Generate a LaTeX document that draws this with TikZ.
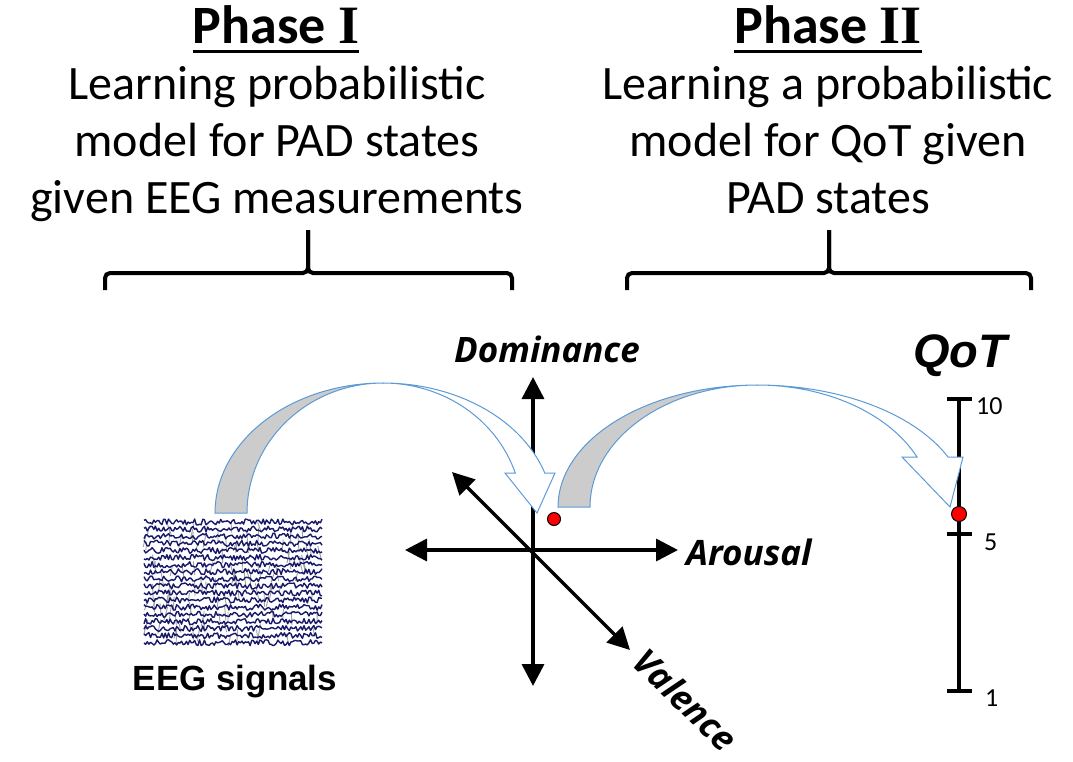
\documentclass[tikz,border=0pt]{standalone}
\usepackage{fontspec}
\setmainfont{Carlito}
\newfontfamily\romfont{Liberation Serif}
\newfontfamily\axisfont{Open Sans}
\newfontfamily\arialfont{Liberation Sans}
\usepackage{tikz}
\usetikzlibrary{arrows.meta,positioning,calc}
\definecolor{arrowblue}{RGB}{91,155,213}
\definecolor{bandgray}{RGB}{204,204,204}
\definecolor{eegnavy}{RGB}{25,25,105}

\begin{document}
\begin{tikzpicture}[x=1pt,y=-1pt,
        title/.style={inner sep=0pt,anchor=base,font=\bfseries\fontsize{54}{60}\selectfont},
        desc/.style={inner sep=0pt,anchor=base,align=center,font=\fontsize{48}{57}\selectfont},
        brace/.style={line width=4pt,rounded corners=5pt},
        axis/.style={line width=3.5pt,{Triangle[length=22pt,width=22pt]}-{Triangle[length=22pt,width=22pt]}},
        axlabel/.style={inner sep=0pt,anchor=base,font=\axisfont\bfseries\itshape\fontsize{35}{40}\selectfont},
        band/.style={draw=arrowblue,line width=1pt,fill=bandgray},
        shaft/.style={draw=arrowblue,line width=1pt,fill=white},
        dot/.style={circle,draw=black,fill=red,line width=1pt,inner sep=0pt,minimum size=13pt},
        eegtrace/.style={eegnavy,line width=1.4pt,line join=round},
        scaletick/.style={line width=4pt},
        numlabel/.style={inner sep=0pt,anchor=west,font=\fontsize{26}{30}\selectfont}
    ]
    \useasboundingbox (0,0) rectangle (1073,761);

    % headings
    \node[title] (p1) at (276,43) {Phase {\romfont I}};
    \node[title] (p2) at (828,43) {Phase {\romfont II}};
    \draw[line width=3pt] ([yshift=-8pt]p1.base west) -- ([yshift=-8pt]p1.base east);
    \draw[line width=3pt] ([yshift=-8pt]p2.base west) -- ([yshift=-8pt]p2.base east);
    \node[desc] (d1) at (277,213) {Learning probabilistic\\model for PAD states\\given EEG measurements};
    \node[desc] (d2) at (828,213) {Learning a probabilistic\\model for QoT given\\PAD states};

    % braces
    \draw[brace] (105,290) |- (308,273) -- (308,230);
    \draw[brace] (308,230) -- (308,273) -| (512,290);
    \draw[brace] (627,290) |- (829,273) -- (829,230);
    \draw[brace] (829,230) -- (829,273) -| (1031,290);

    % EEG signals
    \node[minimum width=180pt,minimum height=129pt,inner sep=0pt] (eeg) at (233,583) {};
    \pgfmathsetseed{7}
    \foreach \i in {1,...,110} {
        \pgfmathsetmacro\xx{146+174*rnd}
        \pgfmathsetmacro\yy{520+114*rnd}
        \draw[gray!75,line width=.9pt] (\xx,\yy) -- ++({4*rand},{8+8*rnd});
    }
    \foreach \k in {0,...,17}
        \draw[eegtrace] plot[domain=144:322,samples=110] (\x,{522+\k*7.1+3*rand});
    \node[inner sep=0pt,anchor=base,font=\arialfont\bfseries\fontsize{35}{40}\selectfont] (eeglab) at (235,690) {EEG signals};

    % PAD space
    \coordinate (o) at (533,550);
    \draw[axis] (533,377) -- (533,686);
    \draw[axis] (405,550) -- (678,550);
    \draw[axis] (452,472) -- (630,650);
    \node[axlabel] (dom) at (547,362) {Dominance};
    \node[axlabel,anchor=base west] (aro) at (686,565) {Arousal};
    \node[axlabel,anchor=center,rotate=-44] (val) at (686,700) {Valence};

    % QoT scale
    \coordinate (q10) at (959,399);
    \coordinate (q5) at (959,534);
    \coordinate (q1) at (959,691);
    \draw[line width=4.5pt] (q10) -- (q1);
    \foreach \c in {q10,q5,q1}
        \draw[scaletick] ([xshift=-12pt]\c) -- ([xshift=13pt]\c);
    \node[numlabel] (n10) at (976,406) {10};
    \node[numlabel] (n5) at (984,542) {5};
    \node[numlabel] (n1) at (985,698) {1};
    \node[inner sep=0pt,anchor=base,font=\arialfont\bfseries\itshape\fontsize{47}{50}\selectfont] (qot) at (960,367) {QoT};

    % curved arrows
    \begin{scope}[shift={(383,513)}]
        \draw[band] (-168,0) -- plot[domain=180:90,samples=40] ({168*cos(\x)},{-130*sin(\x)})
            -- plot[domain=90:180,samples=40] ({136*cos(\x)},{-130*sin(\x)}) -- cycle;
        \draw[shaft] plot[domain=90:17.92,samples=40] ({170*cos(\x)},{-130*sin(\x)})
            -- (172,-40) -- (154,0) -- (122,-40)
            -- plot[domain=17.92:90,samples=40] ({139*cos(\x)},{-130*sin(\x)}) -- cycle;
    \end{scope}
    \begin{scope}[shift={(757,507)}]
        \draw[band] (-199,0) -- plot[domain=180:90,samples=40] ({199*cos(\x)},{-122*sin(\x)})
            -- plot[domain=90:180,samples=40] ({167*cos(\x)},{-122*sin(\x)}) -- cycle;
        \draw[shaft] plot[domain=90:24.19,samples=40] ({209.4*cos(\x)},{-122*sin(\x)})
            -- (206,-50) -- (193,0) -- (145,-50)
            -- plot[domain=24.19:90,samples=40] ({175.4*cos(\x)},{-122*sin(\x)}) -- cycle;
    \end{scope}

    % states
    \node[dot] (pad) at (554,519) {};
    \node[dot,minimum size=15pt] (qval) at (959,514) {};
\end{tikzpicture}
\end{document}
